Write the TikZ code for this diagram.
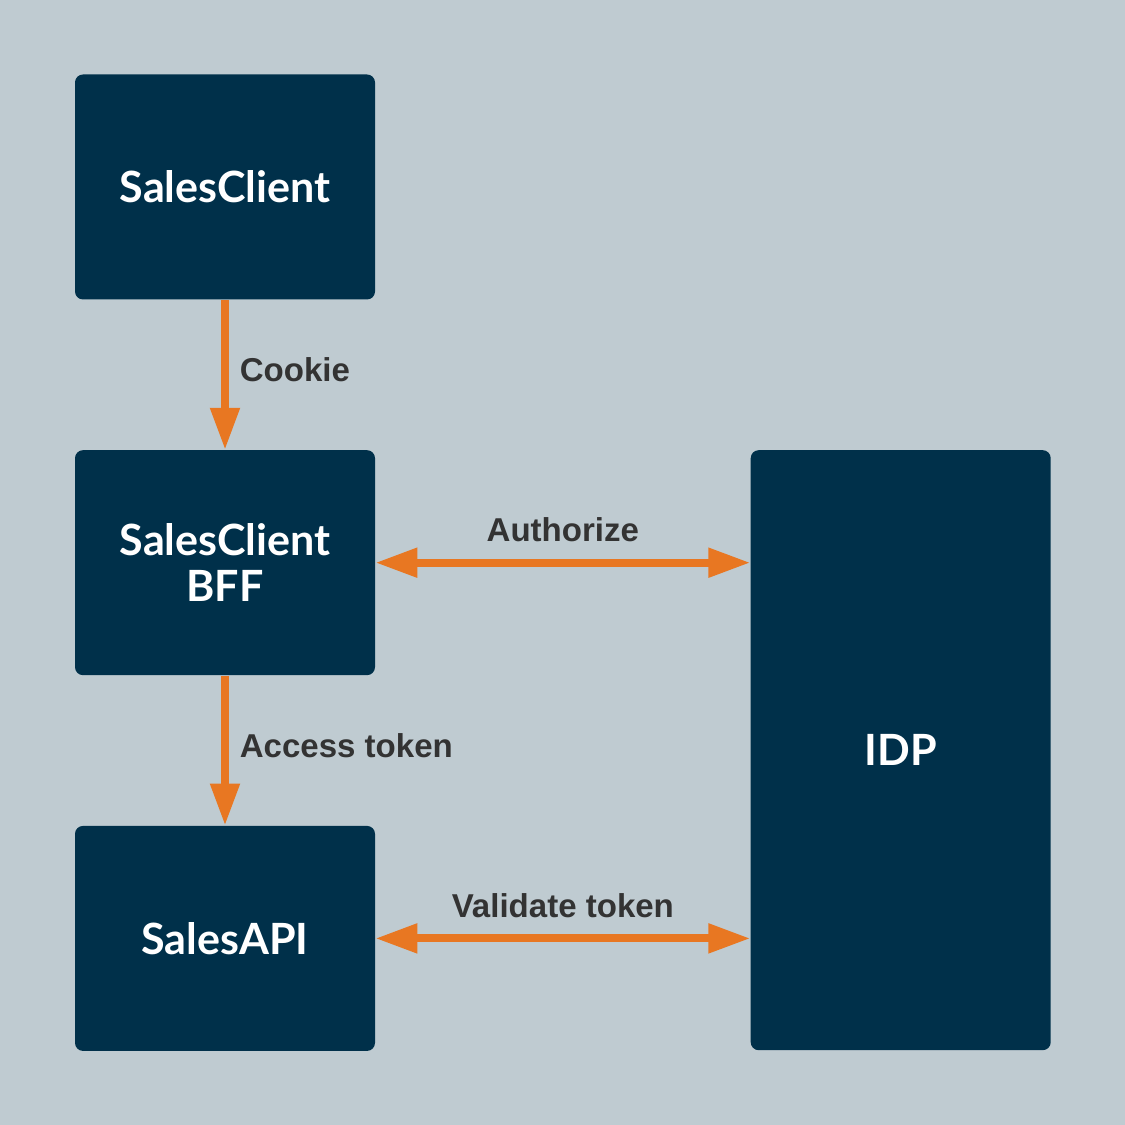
\documentclass[tikz,border=0pt]{standalone}
\usepackage{fontspec}
\setmainfont{Liberation Sans}
\newfontfamily\boxfont{Lato}
\usetikzlibrary{arrows.meta,positioning}
\definecolor{bg}{HTML}{BFCBD1}
\definecolor{navy}{HTML}{00304A}
\definecolor{tangerine}{HTML}{E87722}
\definecolor{labelgray}{HTML}{333333}
\begin{document}
\begin{tikzpicture}[
    box/.style={fill=navy, rounded corners=0.16cm, minimum width=6cm, minimum height=4.5cm,
        text=white, align=center, font=\boxfont\bfseries\fontsize{24.5}{26}\selectfont},
    flow/.style={tangerine, line width=0.16cm, -{Triangle[length=0.84cm, width=0.56cm]}},
    both/.style={flow, {Triangle[length=0.84cm, width=0.56cm]}-{Triangle[length=0.84cm, width=0.56cm]}},
    lbl/.style={text=labelgray, font=\bfseries\fontsize{18.8}{22}\selectfont}
]
    \fill[bg] (0, 0) rectangle (22.5, 22.5);

    \node[box] (client) at (4.5, 18.76) {SalesClient};
    \node[box, below=3cm of client] (bff) {SalesClient\\BFF};
    \node[box, below=3cm of bff] (api) {SalesAPI};
    \node[box, minimum height=12cm, anchor=north west] (idp) at ([xshift=7.5cm]bff.north east) {IDP};

    \draw[flow] (client) -- (bff) node[midway, right=0.1cm, yshift=0.1cm, lbl] {Cookie};
    \draw[flow] (bff) -- (api) node[midway, right=0.1cm, yshift=0.1cm, lbl] {Access token};

    \draw[both] (bff.east) -- (bff.east -| idp.west) node[midway, above=0.22cm, lbl] {Authorize};
    \draw[both] (api.east) -- (api.east -| idp.west) node[midway, above=0.22cm, lbl] {Validate token};
\end{tikzpicture}
\end{document}
